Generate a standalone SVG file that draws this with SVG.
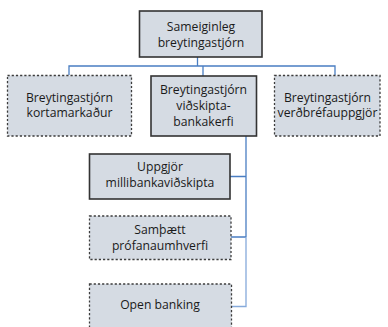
<svg xmlns="http://www.w3.org/2000/svg" width="388" height="327" viewBox="0 0 388 327">
<style>
.box{fill:#d5dbe3;}
.solid{stroke:#333;stroke-width:1.6;}
.dash{stroke:#3c3c3c;stroke-width:1.3;stroke-dasharray:2.2 2;}
.lbl{font-family:"Open Sans","Noto Sans",sans-serif;font-size:12.2px;fill:#1a1a1a;text-anchor:middle;}
.con{fill:none;stroke:#4a7ec2;stroke-width:1.3;}
.con2{fill:none;stroke:#86aadb;stroke-width:1.3;}
</style>
<rect width="388" height="327" fill="#fff"/>
<g id="connectors">
<path class="con" d="M197.5 57V66M69 75V66H335V75M203 66V76"/>
<path class="con" d="M246 136V237M230 176.5H246M230 237H246"/>
<path class="con2" d="M246 237V306.5H232"/>
</g>
<g id="n-sameiginleg">
<rect class="box solid" x="139.5" y="11" width="122.5" height="46"/>
<text class="lbl" x="201" y="30.5">Sameiginleg</text>
<text class="lbl" x="201" y="46.5">breytingastjórn</text>
</g>
<g id="n-korta">
<rect class="box dash" x="7.5" y="75.5" width="124" height="60.5"/>
<text class="lbl" x="69.5" y="101.5">Breytingastjórn</text>
<text class="lbl" x="69.5" y="117">kortamarkaður</text>
</g>
<g id="n-vidskipta">
<rect class="box solid" x="151" y="76" width="105.5" height="60"/>
<text class="lbl" x="203.5" y="94">Breytingastjórn</text>
<text class="lbl" x="203.5" y="110">viðskipta-</text>
<text class="lbl" x="203.5" y="126">bankakerfi</text>
</g>
<g id="n-verdbref">
<rect class="box dash" x="274.5" y="75.5" width="105.5" height="60.5"/>
<text class="lbl" x="327.5" y="101.5">Breytingastjórn</text>
<text class="lbl" x="327.5" y="117">verðbréfauppgjör</text>
</g>
<g id="n-uppgjor">
<rect class="box solid" x="89.5" y="154" width="140.5" height="45"/>
<text class="lbl" x="160" y="170.5">Uppgjör</text>
<text class="lbl" x="160" y="186.5">millibankaviðskipta</text>
</g>
<g id="n-samthaett">
<rect class="box dash" x="89.5" y="216" width="141.5" height="43.5"/>
<text class="lbl" x="160" y="234">Samþætt</text>
<text class="lbl" x="160" y="250">prófanaumhverfi</text>
</g>
<g id="n-openbanking">
<rect class="box dash" x="89.5" y="284" width="142" height="50"/>
<text class="lbl" x="160" y="309">Open banking</text>
</g>
</svg>
